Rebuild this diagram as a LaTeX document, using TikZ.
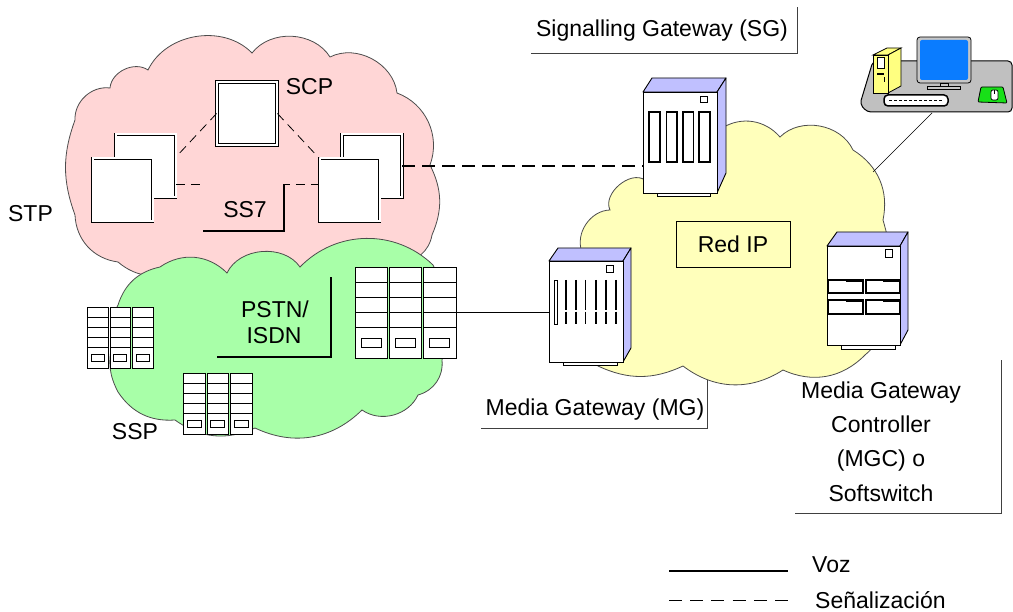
\documentclass[tikz,border=0pt]{standalone}
\usepackage{fontspec}
\setmainfont{Liberation Sans}
\usetikzlibrary{calc}

\definecolor{stpPink}{HTML}{FFD6D6}
\definecolor{pstnGreen}{HTML}{A8FFA8}
\definecolor{ipYellow}{HTML}{FFFFBB}
\definecolor{srvSide}{HTML}{C0C0FF}
\definecolor{deskGray}{HTML}{C0C0C0}
\definecolor{screenBlue}{HTML}{0A7CFF}
\definecolor{pcYellow}{HTML}{FFFF80}
\definecolor{padGreen}{HTML}{18E018}

% switching cabinet: three columns, four rows of cells and a bottom row with slots
\newcommand\cabinetgrid[4]{%
  \pgfmathsetmacro\cw{(#3-#1)/3}%
  \pgfmathsetmacro\ch{#4-#2}%
  \foreach \i in {0,1,2}{%
    \pgfmathsetmacro\xa{#1+\i*\cw+(\i>0?1:0)}%
    \pgfmathsetmacro\xb{#1+(\i+1)*\cw-(\i<2?1:0)}%
    \draw[cabline, fill=white] (\xa,#2) rectangle (\xb,#4);
    \foreach \k in {1,2,3,4}{%
      \pgfmathsetmacro\yr{#2+\k*\ch/6}%
      \draw[cabline, line width=1.2pt] (\xa,\yr) -- (\xb,\yr);
    }
    \pgfmathsetmacro\sx{(\xa+\xb)/2}%
    \pgfmathsetmacro\sy{#2+\ch*5/6}%
    \draw[cabline, line width=0.7pt] ({\sx-0.3*\cw},{\sy-0.05*\ch}) rectangle ({\sx+0.3*\cw},{\sy+0.05*\ch});
  }%
}

\begin{document}
\begin{tikzpicture}[x=1pt, y=-1pt,
  font=\fontsize{23}{27}\selectfont,
  cloudedge/.style={draw=black!70, line width=0.8pt},
  stpbox/.style={draw=black, line width=0.8pt, double=white, double distance=2pt,
    fill=white, minimum width=60, minimum height=63, inner sep=0},
  sigthin/.style={draw=black, line width=0.8pt, dash pattern=on 9pt off 6pt},
  sigthick/.style={draw=black, line width=2pt, dash pattern=on 13pt off 7pt},
  legenddash/.style={draw=black, line width=0.8pt, dash pattern=on 13pt off 8.2pt},
  voiceline/.style={draw=black, line width=0.9pt},
  leaderline/.style={draw=black!75, line width=0.9pt},
  bracketline/.style={draw=black, line width=1.8pt},
  lbl/.style={inner sep=0, anchor=base},
  srvfront/.style={draw=black, line width=0.9pt, fill=white, inner sep=0},
  srvside/.style={draw=black, line width=0.9pt, fill=srvSide, line join=round},
  cabline/.style={draw=black, line width=0.9pt},
  hidden/.style={inner sep=0, draw=none}]

\useasboundingbox (0,0) rectangle (1013,612);

% ---------- clouds ----------
% SS7 signalling network
\path[cloudedge, fill=stpPink]
  (110,88) to[bend left=60] (148,70) to[bend left=55] (252,53)
  to[bend left=55] (330,57) to[bend left=55] (397,93)
  to[bend left=45] (430,165) to[bend left=25] (432,235)
  to[bend left=40] (400,262) to[bend left=30] (300,270)
  to[bend left=30] (180,268) to[bend left=35] (118,262)
  to[bend left=40] (75,215) to[bend left=20] (75,120)
  to[bend left=50] (110,88) -- cycle;

% PSTN / ISDN network
\path[cloudedge, fill=pstnGreen]
  (118,305) to[bend left=30] (160,267) to[bend left=40] (227,273)
  to[bend left=60] (300,267) to[bend left=45] (433,265)
  to[bend left=20] (442,360) to[bend left=40] (418,395)
  to[bend left=50] (362,410) to[bend left=35] (255,428)
  to[bend left=30] (175,420) to[bend left=30] (118,392)
  to[bend left=20] (112,345) to[bend left=20] (118,305) -- cycle;

% IP network
\path[cloudedge, fill=ipYellow]
  (582,252) to[bend left=55] (610,210) to[bend left=75] (645,180)
  to[bend left=30] (722,128) to[bend left=40] (780,137)
  to[bend left=55] (853,150) to[bend left=35] (883,220)
  to[bend left=15] (885,300) to[bend left=30] (865,355)
  to[bend left=35] (783,370) to[bend left=35] (683,366)
  to[bend left=25] (598,366) to[bend left=20] (575,310)
  to[bend left=15] (582,252) -- cycle;

% ---------- SS7 nodes ----------
\node[stpbox] (scp) at (247,113.5) {};
\node[stpbox] (stpLb) at (145.5,166) {};
\node[stpbox] (stpLf) at (122.5,190) {};
\node[stpbox] (stpRb) at (372,166) {};
\node[stpbox] (stpRf) at (349.5,190) {};

\coordinate (ss7y) at (0,184);
\draw[sigthin] (scp.west) -- ($(stpLb.north east)!0.36!(stpLb.south east)$);
\draw[sigthin] (scp.east) -- (stpRf.north west);
\draw[sigthin] (stpLb.east |- ss7y) -- (stpRf.west |- ss7y);

% SS7 label with its corner leader
\fill[stpPink] (203,178) rectangle (284,231);
\coordinate (ss7a) at (203,231);
\coordinate (ss7b) at (284,231);
\coordinate (ss7c) at (284,184);
\draw[bracketline, line width=1.5pt] (ss7a) -- (ss7b) -- (ss7c);
\node[lbl] (ss7) at (245,218) {SS7};

\node[lbl] (scpTxt) at (309.5,95) {SCP};
\node[lbl] (stpTxt) at (30.5,222) {STP};

% ---------- PSTN switches ----------
\node[hidden, minimum width=66, minimum height=61] (ssp1) at (120,337.5) {};
\node[hidden, minimum width=69, minimum height=61] (ssp2) at (217.5,403.5) {};
\node[hidden, minimum width=101, minimum height=91] (ssp3) at (405.5,312.5) {};
\cabinetgrid{87}{307}{153}{368}
\cabinetgrid{183}{373}{252}{434}
\cabinetgrid{355}{267}{456}{358}

\coordinate (pstnA) at (217,357);
\coordinate (pstnB) at (331,357);
\coordinate (pstnC) at (331,277);
\draw[bracketline] (pstnA) -- (pstnB) -- (pstnC);
\node[lbl] (pstnTxt) at (275,318) {PSTN/};
\node[lbl] (isdnTxt) at (274,344) {ISDN};
\node[lbl] (sspTxt) at (135,440) {SSP};

% ---------- Signalling Gateway ----------
\draw[srvside] (643,92) -- (652,78) -- (726,78) -- (717,92) -- cycle;
\draw[srvside] (717,92) -- (726,78) -- (726,173) -- (717,193) -- cycle;
\draw[srvfront] (657,193) rectangle (710,196.5);
\node[srvfront, minimum width=74, minimum height=101] (sg) at (680,142.5) {};
\draw[line width=0.8pt] (700,96) rectangle (707,102);
\foreach \xa/\xb in {649/660, 666.5/677, 683/693.5, 699/710}
  \draw[line width=1.6pt] (\xa,112) rectangle (\xb,162);

% ---------- Media Gateway ----------
\draw[srvside] (549,261) -- (558,248) -- (631,248) -- (623,261) -- cycle;
\draw[srvside] (623,261) -- (631,248) -- (631,348) -- (623,362) -- cycle;
\draw[srvfront] (563,362) rectangle (617,365.5);
\node[srvfront, minimum width=74, minimum height=101] (mg) at (586,311.5) {};
\draw[line width=0.8pt] (606,265) rectangle (613,272);
\draw[line width=0.7pt] (554,280) rectangle (557,324);
\foreach \xb in {566,576,585.5,596,606,616}{
  \draw[line width=1.9pt] (\xb,280) -- (\xb,310.3);
  \draw[line width=1.9pt] (\xb,311.7) -- (\xb,324);
}

% ---------- Media Gateway Controller ----------
\draw[srvside] (827,246) -- (837,232) -- (908,232) -- (900,246) -- cycle;
\draw[srvside] (900,246) -- (908,232) -- (908,330) -- (900,345) -- cycle;
\draw[srvfront] (841,345) rectangle (895,349);
\node[srvfront, minimum width=73, minimum height=99] (mgc) at (863.5,295.5) {};
\draw[line width=0.8pt] (885,249) rectangle (892,257);
\foreach \xa/\xb/\ya/\yb in {828/863/280/293, 866/900/280/293, 828/863/300/314, 866/900/300/314}{
  \draw[line width=1.1pt] (\xa,\ya) rectangle (\xb,\yb);
  \draw[line width=1.6pt] ({(\xa+\xb)/2},{\ya+1}) -- ({\xb-1},{\ya+1});
}

% IP network label
\node[draw=black, line width=0.9pt, fill=ipYellow, minimum width=114, minimum height=46,
  inner sep=0] (redip) at (733,244) {Red IP};

% ---------- workstation ----------
\draw[line width=1pt, fill=deskGray, rounded corners=4pt]
  (873,61) -- (1012,61) -- (1012,112) -- (867,112) -- (860,104) -- cycle;
\draw[line width=0.8pt, fill=pcYellow] (873,55) -- (887,48) -- (901,48) -- (888,55) -- cycle;
\draw[line width=0.8pt, fill=pcYellow] (888,55) -- (901,48) -- (901,86) -- (888,93) -- cycle;
\draw[line width=0.8pt, fill=pcYellow] (873,55) rectangle (888,93);
\draw[line width=0.8pt, fill=white] (877,57.5) rectangle (884,68);
\draw[line width=1.5pt] (877,74) -- (884,74);
\draw[line width=0.8pt] (884,77) -- (884,82);
\draw[line width=0.8pt, fill=gray!45, rounded corners=3pt] (917,37) rectangle (971,83);
\fill[screenBlue, rounded corners=2pt] (920,40) rectangle (968,80);
\draw[line width=0.6pt, fill=gray!45] (940,83) rectangle (948,86);
\draw[line width=0.8pt, fill=gray!45] (927,86) rectangle (960,89);
\draw[line width=1.5pt, fill=white, rounded corners=4pt] (884,95) rectangle (948,106);
\draw[line width=0.8pt, dash pattern=on 3pt off 2pt] (889,100.5) -- (943,100.5);
\draw[line width=0.8pt, fill=padGreen, rounded corners=1pt]
  (981,87) -- (1003,87) -- (1007,103) -- (978,102) -- cycle;
\draw[line width=0.7pt, fill=white, rounded corners=2pt] (991,90) rectangle (998,100);
\draw[line width=0.6pt] (994.5,90) -- (994.5,94);

\coordinate (deskPort) at (932,113);
\coordinate (ipEdge) at (873,172);
\draw[line width=0.7pt] (deskPort) -- (ipEdge);

% ---------- connections ----------
\draw[voiceline, line width=0.8pt] (ssp3.east) -- (ssp3.east -| mg.west);
\draw[sigthick] (stpRb.east) -- (stpRb.east -| sg.west);

% ---------- callout labels ----------
\coordinate (sgA) at (531,53);
\coordinate (sgB) at (797,53);
\coordinate (sgC) at (797,7);
\draw[leaderline] (sgA) -- (sgB) -- (sgC);
\node[lbl] (sgTxt) at (662,37) {Signalling Gateway (SG)};

\coordinate (mgA) at (481,428);
\coordinate (mgB) at (707,428);
\coordinate (mgC) at (707,380);
\draw[leaderline] (mgA) -- (mgB) -- (mgC);
\node[lbl] (mgTxt) at (595,416) {Media Gateway (MG)};

\coordinate (mgcA) at (795,513);
\coordinate (mgcB) at (1001,513);
\coordinate (mgcC) at (1001,360);
\draw[leaderline] (mgcA) -- (mgcB) -- (mgcC);
\node[lbl] (mgcL1) at (881,399) {Media Gateway};
\node[lbl] (mgcL2) at (881,433) {Controller};
\node[lbl] (mgcL3) at (881,467) {(MGC) o};
\node[lbl] (mgcL4) at (881,501) {Softswitch};

% ---------- legend ----------
\coordinate (vozA) at (669,571);
\coordinate (vozB) at (788,571);
\draw[voiceline, line width=1.2pt] (vozA) -- (vozB);
\node[lbl, anchor=base west] (vozTxt) at (812,572) {Voz};
\coordinate (senA) at (669,600);
\coordinate (senB) at (788,600);
\draw[legenddash] (senA) -- (senB);
\node[lbl, anchor=base west] (senTxt) at (815,608) {Señalización};

\end{tikzpicture}
\end{document}
